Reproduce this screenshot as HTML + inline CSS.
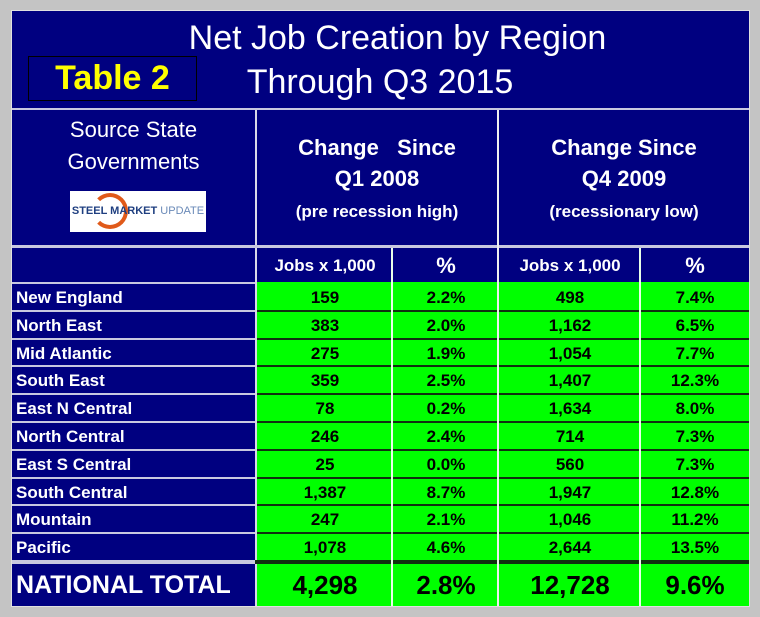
<!DOCTYPE html>
<html><head><meta charset="utf-8"><style>
body{margin:0;width:760px;height:617px;background:#c4c4c4;font-family:"Liberation Sans",Arial,sans-serif;overflow:hidden}
#t{position:absolute;left:11px;top:10px;width:739px;height:597px;background:#000080;border:1px solid #e0e0e0;box-sizing:border-box}
.a{position:absolute;box-sizing:border-box}
.w{color:#fff}
.c{text-align:center}
.g{background:#00ff00;color:#000;font-weight:bold;text-align:center}
.vl{position:absolute;width:2px;background:#d8d8e8}
.hl{position:absolute;height:2px;background:#c8c8e0}
</style></head><body>
<div id="t"></div>
<div class="a w c" style="left:160px;top:18px;width:475px;font-size:34px;line-height:40px">Net Job Creation by Region</div>
<div class="a w c" style="left:215px;top:62px;width:330px;font-size:34px;line-height:40px">Through Q3 2015</div>
<div class="a c" style="left:28px;top:56px;width:169px;height:45px;border:1px solid #000;color:#ffff00;font-weight:bold;font-size:34px;line-height:43px">Table 2</div>
<div class="hl" style="left:12px;top:108px;width:737px"></div>
<div class="a w c" style="left:12px;top:114px;width:243px;font-size:22px;line-height:32px">Source State<br>Governments</div>
<div class="a" style="left:70px;top:191px;width:136px;height:41px;background:#fff;font-size:11px;font-weight:bold;line-height:41px;text-align:center;color:#1f3f80"><span style="position:absolute;left:22px;top:2px;width:36px;height:36px;border-radius:50%;border:4px solid #e05a1a;border-left-color:transparent;box-sizing:border-box"></span><span style="position:relative">STEEL MARKET <span style="font-weight:normal;color:#6a8ab8">UPDATE</span></span></div>
<div class="vl" style="left:255px;top:110px;height:496px"></div>
<div class="a w c" style="left:257px;top:132px;width:240px;font-weight:bold;font-size:22px;line-height:31px">Change&nbsp;&nbsp;&nbsp;Since<br>Q1 2008<br><span style="font-size:17px">(pre recession high)</span></div>
<div class="a w c" style="left:499px;top:132px;width:250px;font-weight:bold;font-size:22px;line-height:31px">Change Since<br>Q4 2009<br><span style="font-size:17px">(recessionary low)</span></div>
<div class="hl" style="left:12px;top:245px;width:737px;height:3px"></div>
<div id="rows"></div>
<script>
const regions=["New England","North East","Mid Atlantic","South East","East N Central","North Central","East S Central","South Central","Mountain","Pacific"];
const jobs2008=["159","383","275","359","78","246","25","1,387","247","1,078"];
const pct2008=["2.2%","2.0%","1.9%","2.5%","0.2%","2.4%","0.0%","8.7%","2.1%","4.6%"];
const jobs2009=["498","1,162","1,054","1,407","1,634","714","560","1,947","1,046","2,644"];
const pct2009=["7.4%","6.5%","7.7%","12.3%","8.0%","7.3%","7.3%","12.8%","11.2%","13.5%"];
const totalVals=["4,298","2.8%","12,728","9.6%"];
const colX=[257,393,499,641,749];
const R=document.getElementById('rows');
function mk(cls,st,txt){const d=document.createElement('div');d.className='a '+cls;d.style.cssText=st;d.textContent=txt;R.appendChild(d);return d;}
const subs=["Jobs x 1,000","%","Jobs x 1,000","%"];
for(let j=0;j<4;j++){
 const d=mk('w c',`left:${colX[j]}px;top:248px;width:${colX[j+1]-colX[j]}px;height:34px;font-weight:bold;font-size:${j%2?22:17}px;line-height:36px`,subs[j]);
 
 
}
const top0=282,rh=27.8;
for(let i=0;i<regions.length;i++){
 const y=top0+i*rh;
 const l=mk('w',`left:12px;top:${y}px;width:243px;height:${rh}px;padding-left:4px;font-weight:bold;font-size:17px;line-height:${rh}px;border-top:2px solid #c8c8e0`,regions[i]);
 
 
 const vals=[jobs2008[i],pct2008[i],jobs2009[i],pct2009[i]];
 for(let j=0;j<4;j++){
  const c=mk('g',`left:${colX[j]}px;top:${y}px;width:${colX[j+1]-colX[j]}px;height:${rh}px;font-size:17px;line-height:${rh+1}px;border-top:2px solid ${i==0?'#00ff00':'#103010'}`,vals[j]);
  
  
 }
}
const yt=top0+10*rh;
const hl=document.createElement('div');hl.style.cssText=`position:absolute;left:255px;top:${yt}px;width:494px;height:4px;background:#103010`;R.appendChild(hl);
const hl2=document.createElement('div');hl2.className='hl';hl2.style.cssText+=`;left:12px;top:${yt}px;width:243px;height:4px`;R.appendChild(hl2);
const tl=mk('w',`left:16px;top:${yt+4}px;width:238px;height:${606-yt-4}px;font-weight:bold;font-size:25px;line-height:${606-yt-4}px`,"NATIONAL TOTAL");


for(let j=0;j<4;j++){
 const c=mk('g',`left:${colX[j]}px;top:${yt+4}px;width:${colX[j+1]-colX[j]}px;height:${606-yt-4}px;font-size:26px;line-height:${606-yt-4}px`,totalVals[j]);
 
 
}
for(const x of [391,639]){const v=document.createElement('div');v.style.cssText=`position:absolute;left:${x}px;top:248px;width:2px;height:358px;background:#e8ffe8`;R.appendChild(v);}
{const v=document.createElement('div');v.style.cssText=`position:absolute;left:497px;top:110px;width:2px;height:496px;background:#f0f0f0`;R.appendChild(v);}
</script>
</body></html>
